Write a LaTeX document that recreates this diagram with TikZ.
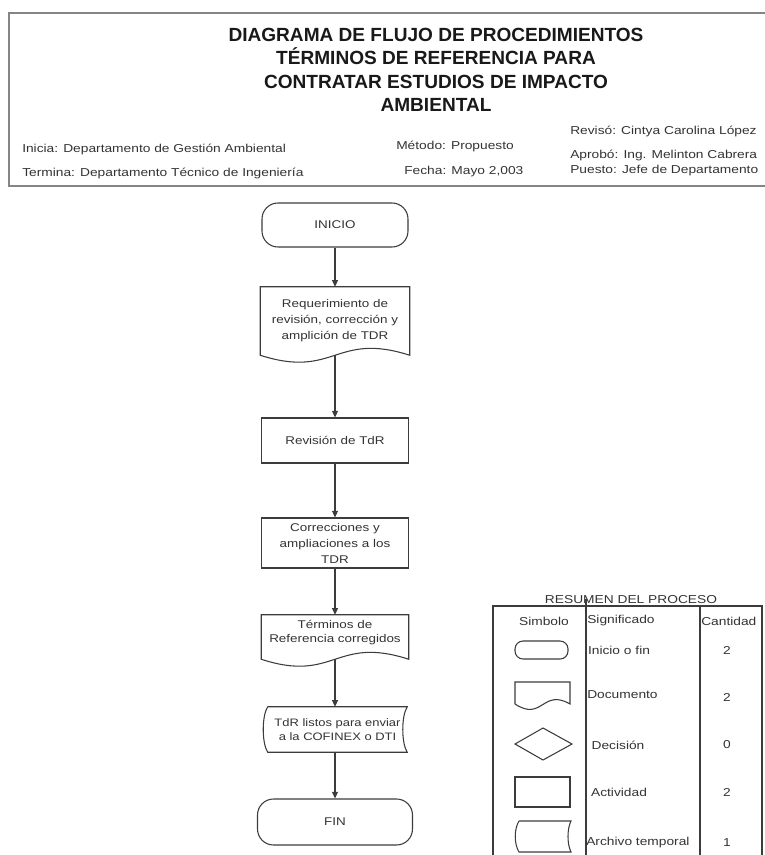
\documentclass[tikz,border=0pt]{standalone}
\usepackage{fontspec}
\setmainfont{Liberation Sans}
\newfontfamily\widesans[FakeStretch=1.2]{Liberation Sans}
\usetikzlibrary{arrows.meta,calc}
\definecolor{ink}{HTML}{3C3C3C}
\definecolor{framegray}{HTML}{858585}
\definecolor{txt}{HTML}{333333}

\begin{document}
\begin{tikzpicture}[x=0.75pt,y=-0.75pt,
  line/.style={draw=ink,line width=0.8pt},
  flowarrow/.style={line,-{Triangle[length=5pt,width=4.5pt]}},
  info/.style={anchor=west,inner sep=0pt,text=txt,font=\widesans\fontsize{8.6}{10}\selectfont},
  flowtext/.style={align=center,inner sep=0pt,text=txt},
  terminal/.style={line,rounded corners=12pt,flowtext},
  legtext/.style={inner sep=0pt,text=txt,font=\widesans\fontsize{8.6}{10}\selectfont}
]
\useasboundingbox (0,0) rectangle (764,855);

% ---------- header block ----------
\draw[draw=framegray,line width=1.4pt] (770,13) -- (9,13) -- (9,186) -- (770,186);
\node[align=center,inner sep=0pt,text=black!90,
      font=\bfseries\fontsize{14.3}{17.6}\selectfont] (title) at (436,70)
  {DIAGRAMA DE FLUJO DE PROCEDIMIENTOS\\
   TÉRMINOS DE REFERENCIA PARA\\
   CONTRATAR ESTUDIOS DE IMPACTO\\
   AMBIENTAL};
\node[info] (inicia)  at (22,149) {Inicia: Departamento de Gestión Ambiental};
\node[info] (termina) at (22,173) {Termina: Departamento Técnico de Ingeniería};
\node[info] (metodo)  at (396,146) {Método: Propuesto};
\node[info] (fecha)   at (404,172) {Fecha: Mayo 2,003};
\node[info] (reviso)  at (570,131) {Revisó: Cintya Carolina López};
\node[info] (aprobo)  at (570,155) {Aprobó: Ing. Melinton Cabrera};
\node[info] (puesto)  at (570,171) {Puesto: Jefe de Departamento};

% ---------- flow ----------
\begin{scope}[font=\widesans\fontsize{8.4}{12}\selectfont]
\node[terminal,minimum width=109.5pt,minimum height=33pt] (inicio) at (335,225) {INICIO};

\node[flowtext,minimum width=111.75pt,minimum height=51pt] (req) at (335,321)
  {Requerimiento de\\revisión, corrección y\\amplición de TDR};
\draw[line] (req.south west)
  .. controls ($(req.south)+(0,24)$) and ($(req.south)+(0,-24)$) .. (req.south east)
  -- (req.north east) -- (req.north west) -- cycle;

\node[flowtext,draw=ink,line width=0.8pt,minimum width=110.25pt,minimum height=33.75pt]
  (rev) at (335,440.5) {Revisión de TdR};

\node[flowtext,draw=ink,line width=0.8pt,minimum width=110.25pt,minimum height=37.5pt]
  (corr) at (335,543) {Correcciones y\\ampliaciones a los\\TDR};

% the wavy lower edge sits 9px below the text block
\node[flowtext,font=\widesans\fontsize{8.4}{10.5}\selectfont,
      minimum width=110.25pt,minimum height=26.25pt] (term) at (335,632.5)
  {Términos de\\Referencia corregidos};
\draw[line] ($(term.south west)+(0,9)$)
  .. controls ($(term.south)+(0,33)$) and ($(term.south)+(0,-15)$) .. ($(term.south east)+(0,9)$)
  -- (term.north east) -- (term.north west) -- cycle;

\node[flowtext,font=\widesans\fontsize{8.1}{10.5}\selectfont,
      minimum width=104.25pt,minimum height=33.75pt] (arch) at (337.5,729.5)
  {TdR listos para enviar\\a la COFINEX o DTI};
\draw[line] (arch.north west) -- (arch.north east)
  .. controls ($(arch.north east)+(-6,9)$) and ($(arch.south east)+(-6,-9)$) .. (arch.south east)
  -- (arch.south west)
  .. controls ($(arch.south west)+(-6,-9)$) and ($(arch.north west)+(-6,9)$) .. (arch.north west);

\node[terminal,minimum width=116.25pt,minimum height=34.5pt] (fin) at (335,822) {FIN};
\end{scope}

\draw[flowarrow] (inicio.south) -- (inicio.south |- req.north);
\draw[flowarrow] (req.south) -- (req.south |- rev.north);
\draw[flowarrow] (rev.south) -- (rev.south |- corr.north);
\draw[flowarrow] (corr.south) -- (corr.south |- term.north);
\draw[flowarrow] ($(term.south)+(0,9)$) -- (term.south |- arch.north);
\draw[flowarrow] (term.south |- arch.south) -- (term.south |- fin.north);

% ---------- process summary ----------
\node[legtext,font=\widesans\fontsize{8.6}{10}\selectfont] (restitle) at (631,600) {RESUMEN DEL PROCESO};
\draw[line] (493,855) -- (493,606) -- (762,606) -- (762,855);
\draw[line] (586,599) -- (586,855);
\draw[line] (700,606) -- (700,855);

\node[legtext] (hsym) at (544,621) {Simbolo};
\node[legtext,anchor=west] (hsig) at (587,621) {Significado};
\node[legtext,anchor=west] (hcan) at (701,621) {Cantidad};

% symbols
\draw[line,rounded corners=6pt] (515,641) rectangle (568,659);
\draw[line] (515,704) -- (515,682) -- (570,682) -- (570,704)
  .. controls (542.5,688) and (542.5,722) .. (515,704);
\draw[line] (515,744) -- (543,728) -- (572,744) -- (543,760) -- cycle;
\draw[line] (515,777) rectangle (570,807);
\draw[line] (519,821) -- (571,821)
  .. controls (567,829) and (567,844) .. (571,852)
  -- (519,852)
  .. controls (514,844) and (514,829) .. (519,821);

% meanings
\node[legtext] (m1) at (619,650) {Inicio o fin};
\node[legtext,anchor=west] (m2) at (587,695) {Documento};
\node[legtext] (m3) at (618,745) {Decisión};
\node[legtext] (m4) at (619,792) {Actividad};
\node[legtext,anchor=west] (m5) at (586,843) {Archivo temporal};

% counts
\node[legtext] (c1) at (727,650) {2};
\node[legtext] (c2) at (727,697) {2};
\node[legtext] (c3) at (727,745) {0};
\node[legtext] (c4) at (727,792) {2};
\node[legtext] (c5) at (727,843) {1};
\end{tikzpicture}
\end{document}
